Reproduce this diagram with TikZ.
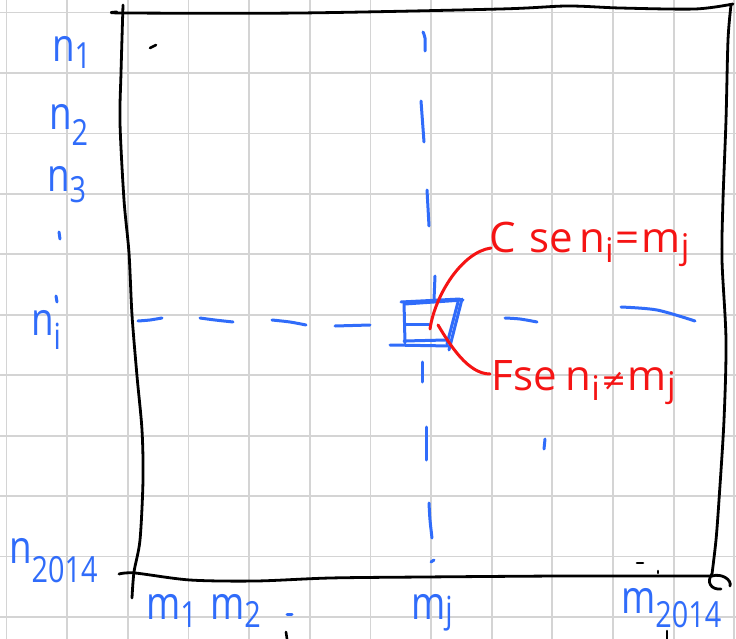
\documentclass[tikz,border=0pt]{standalone}
\usepackage{fontspec}
\setmainfont{Open Sans}
\newfontfamily\symf{DejaVu Sans}
\definecolor{inkblue}{RGB}{48,108,250}
\definecolor{inkred}{RGB}{245,20,20}
\definecolor{gridgray}{RGB}{212,212,212}
\newcommand\bsub[2]{\raisebox{-#1}{\fontsize{36}{36}\selectfont #2}}
\newcommand\rsub[2]{\raisebox{-#1}{\fontsize{34}{34}\selectfont #2}}
\begin{document}
\begin{tikzpicture}[x=1pt,y=-1pt,
  gridline/.style={draw=gridgray,line width=1.8pt},
  frame/.style={draw=black,line width=2.8pt,line cap=round,line join=round},
  bluestroke/.style={draw=inkblue,line width=3pt,line cap=round,line join=round},
  blackmark/.style={draw=black,line width=2.6pt,line cap=round},
  redstroke/.style={draw=inkred,line width=3pt,line cap=round},
  bluelab/.style={text=inkblue,inner sep=0pt,anchor=base west,xscale=0.8,font=\fontsize{46}{46}\selectfont},
  redlab/.style={text=inkred,inner sep=0pt,anchor=base west,font=\fontsize{42}{42}\selectfont},
]
\useasboundingbox (0,0) rectangle (736,639);
\fill[white] (0,0) rectangle (736,639);
% grid paper
\foreach \k in {0,...,12} \draw[gridline] ({6.5+60.65*\k},0) -- ({6.5+60.65*\k},639);
\foreach \k in {0,...,10} \draw[gridline] (0,{12.6+60.44*\k}) -- (736,{12.6+60.44*\k});
% black frame
\draw[frame] plot[smooth] coordinates {(117,12) (125,13) (300,13) (500,9) (567,6) (620,8) (695,9) (733,4)};
\draw[frame] plot[smooth] coordinates {(123,5) (121,73) (120,123) (124,200) (129,253) (132,315) (137,376) (142,430) (143,480) (140,540) (134,572) (132,598)};
\draw[frame] plot[smooth] coordinates {(731,5) (728,40) (726,120) (723,200) (722,260) (726,340) (724,420) (719,500) (716,540) (712,574)};
\draw[frame] plot[smooth] coordinates {(119,574) (135,573) (190,580) (256,581) (330,578) (423,577) (560,576) (660,576) (712,576)};
\draw[frame] (712,574) .. controls (706,582) and (711,590) .. (721,589);
\draw[frame] (712,576) .. controls (722,573) and (732,580) .. (730,586);
% black marks
\draw[blackmark] (150,48) -- (156,45);
\draw[blackmark] (637,563) -- (643,563);
\draw[blackmark] (658,571) -- (658,573);
\draw[blackmark] (286,632) -- (287,639);
\draw[blackmark] (667,631) -- (667,639);
% blue dashed row
\draw[bluestroke] plot[smooth] coordinates {(138,321) (150,320) (162,318)};
\draw[bluestroke] plot[smooth] coordinates {(200,318) (215,320) (233,322)};
\draw[bluestroke] plot[smooth] coordinates {(272,320) (290,322) (306,325)};
\draw[bluestroke] (335,326) -- (370,325);
\draw[bluestroke] plot[smooth] coordinates {(505,318) (520,319) (537,322)};
\draw[bluestroke] plot[smooth] coordinates {(621,307) (657,310) (695,321)};
% blue dashed column
\draw[bluestroke] plot[smooth] coordinates {(423,32) (425,38) (425,51)};
\draw[bluestroke] (421,101) -- (424,142);
\draw[bluestroke] (427,190) -- (429,226);
\draw[bluestroke] (435,276) -- (434,300);
\draw[bluestroke] (422,362) -- (422,382);
\draw[bluestroke] (426,427) -- (426,460);
\draw[bluestroke] plot[smooth] coordinates {(429,503) (430,520) (432,538)};
\draw[bluestroke] (431,562) -- (434,560);
% blue small marks
\draw[bluestroke] (59,232) -- (60,239);
\draw[bluestroke] (56,296) -- (57,302);
\draw[bluestroke] (287,614) -- (292,614);
\draw[bluestroke] (545,439) -- (544,449);
% blue cell box
\draw[bluestroke] (401,302) -- (460,299);
\draw[bluestroke] (405,304) -- (463,300);
\draw[bluestroke] (404,302) -- (405,343);
\draw[bluestroke] (462,299) -- (449,350);
\draw[bluestroke] (458,302) -- (447,344);
\draw[bluestroke] (390,345) -- (451,346);
\draw[bluestroke] (404,341) -- (446,340);
\draw[bluestroke] (405,324) -- (429,324);
\coordinate (cellC) at (430,329);
\coordinate (cellF) at (438,325);
% blue labels
\node[bluelab] (n1) at (52,62) {n\bsub{7pt}{1}};
\node[bluelab] (n2) at (49,130) {n\bsub{16pt}{2}};
\node[bluelab] (n3) at (47,192) {n\bsub{11pt}{3}};
\node[bluelab] (ni) at (31,335) {n\bsub{14pt}{i}};
\node[bluelab] (n2014) at (9,563) {n\bsub{19pt}{2014}};
\node[bluelab] (m1) at (146,619) {m\bsub{8pt}{1}};
\node[bluelab] (m2) at (210,619) {m\bsub{8pt}{2}};
\node[bluelab] (mj) at (411,619) {m\bsub{3pt}{j}};
\node[bluelab] (m2014) at (621,613) {m\bsub{14pt}{2014}};
% red labels
\node[redlab] (ceq) at (489,252) {C\hspace{14pt}se\hspace{6pt}n\rsub{10pt}{i}\hspace{2pt}=\hspace{2pt}m\rsub{6pt}{j}};
\node[redlab] (fneq) at (491,390) {F\hspace{1pt}se\hspace{8pt}n\rsub{10pt}{i}\hspace{2pt}{\symf\fontsize{30}{30}\selectfont ≠}\hspace{1pt}m\rsub{6pt}{j}};
\coordinate (ceqend) at (491,248);
\coordinate (fneqend) at (490,374);
% red connectors
\draw[redstroke] (cellC) .. controls (435,295) and (462,252) .. (ceqend);
\draw[redstroke] (cellF) .. controls (450,345) and (468,374) .. (fneqend);
\end{tikzpicture}
\end{document}
